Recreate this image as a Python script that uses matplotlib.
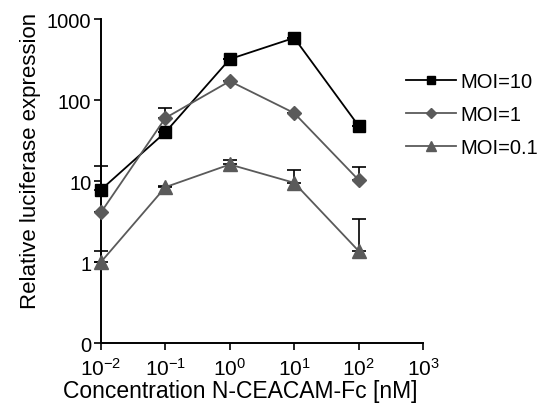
import matplotlib.pyplot as plt
import numpy as np

plt.rcParams['font.family'] = ['Liberation Sans', 'DejaVu Sans']
plt.rcParams['font.size'] = 14.5
plt.rcParams['mathtext.fontset'] = 'custom'
plt.rcParams['mathtext.rm'] = 'Liberation Sans'
plt.rcParams['mathtext.it'] = 'Liberation Sans'
plt.rcParams['mathtext.default'] = 'regular'

# data
conc = [0.01, 0.1, 1, 10, 100]
moi10 = [7.8, 40, 320, 585, 48]
moi10_err = [7.5, 0, 0, 0, 0]
moi1 = [4.1, 60, 171, 69, 10.3]
moi1_err = [0, 20, 0, 0, 4.7]
moi01 = [1.0, 8.4, 16, 9.5, 1.37]
moi01_err = [0.37, 0.3, 2.0, 4.2, 2.0]

fig = plt.figure(figsize=(5.5, 4.06), dpi=100)
ax = fig.add_axes([0.1836, 0.1527, 0.5855, 0.798])

series = [
    (moi10, moi10_err, 's', 'black', 'MOI=10', 9),
    (moi1, moi1_err, 'D', '#5a5a5a', 'MOI=1', 7.5),
    (moi01, moi01_err, '^', '#5a5a5a', 'MOI=0.1', 10),
]
for vals, err, mk, col, lab, ms in series:
    ax.errorbar(conc, vals, yerr=[np.zeros(len(err)), err], fmt='none',
                ecolor='black', elinewidth=1.2, capsize=5, capthick=1.2,
                clip_on=False, zorder=2)
    ax.plot(conc, vals, marker=mk, color=col, mfc=col, mec=col, ms=ms,
            lw=1.3, label=lab, clip_on=False, zorder=3)

ax.set_xscale('log')
ax.set_yscale('log')
ax.set_xlim(0.01, 1000)
ax.set_ylim(0.1, 1000)
ax.set_xticks([0.01, 0.1, 1, 10, 100, 1000])
ax.set_xticklabels(['$10^{-2}$', '$10^{-1}$', '$10^{0}$', '$10^{1}$',
                    '$10^{2}$', '$10^{3}$'])
ax.set_yticks([0.1, 1, 10, 100, 1000])
ax.set_yticklabels(['0', '1', '10', '100', '1000'])
ax.minorticks_off()
ax.tick_params(direction='out', length=5, width=1.2, labelsize=14.5, pad=2)
ax.tick_params(axis='x', pad=5, labelsize=15)
for s in ['top', 'right']:
    ax.spines[s].set_visible(False)
for s in ['left', 'bottom']:
    ax.spines[s].set_linewidth(1.4)

ax.set_xlabel('Concentration N-CEACAM-Fc [nM]', fontsize=16.5, va='bottom')
ax.set_ylabel('Relative luciferase expression', fontsize=16)
ax.xaxis.set_label_coords(0.432, -0.183)
ax.yaxis.set_label_coords(-0.185, 0.565)

fig.legend(loc='upper left', bbox_to_anchor=(0.705, 0.865), frameon=False,
           handlelength=2.5, handletextpad=0.2, labelspacing=0.7,
           markerscale=0.7, fontsize=14.5)

fig.savefig('out.png', dpi=100)
